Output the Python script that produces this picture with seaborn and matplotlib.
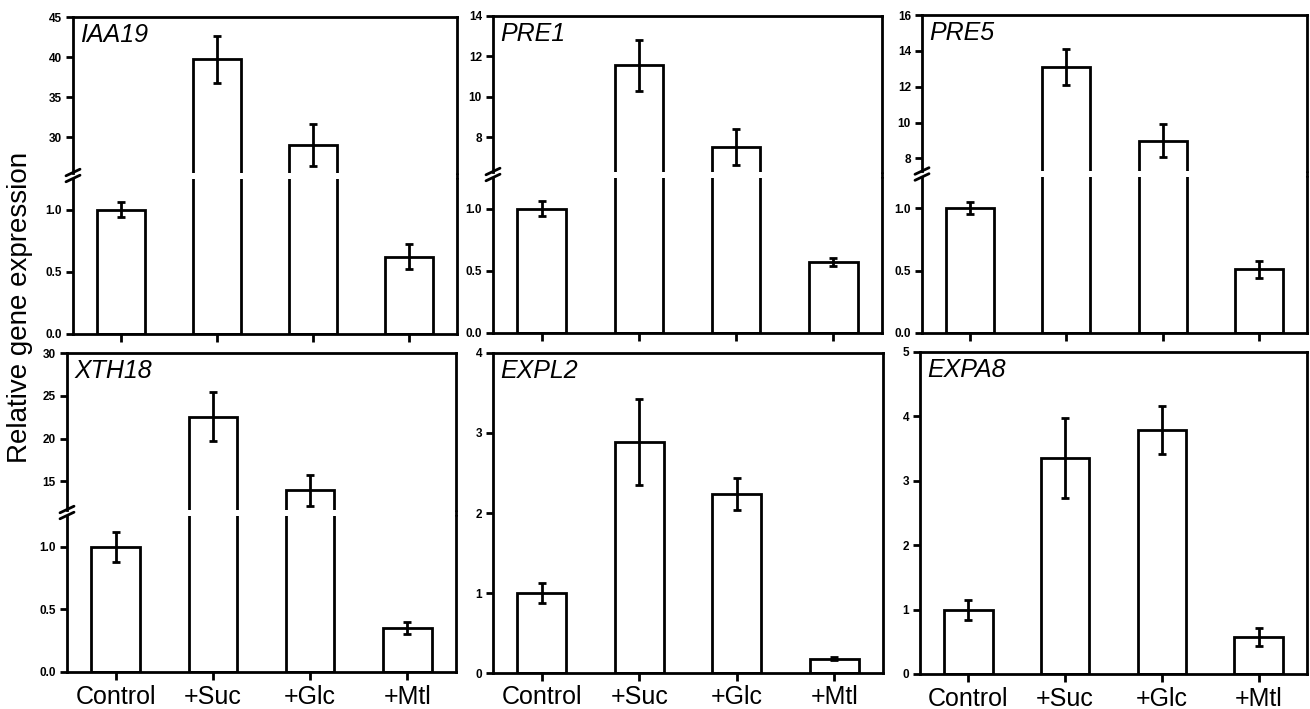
import numpy as np
import pandas as pd
import matplotlib
matplotlib.use("Agg")
import matplotlib.pyplot as plt
import seaborn as sns
from matplotlib.lines import Line2D
from matplotlib.ticker import FormatStrFormatter

# ---------------- data ----------------
categories = ["Control", "+Suc", "+Glc", "+Mtl"]

iaa19_mean = [1.0, 39.7, 29.0, 0.62]
iaa19_err = [0.06, 2.9, 2.6, 0.10]
pre1_mean = [1.0, 11.55, 7.5, 0.57]
pre1_err = [0.06, 1.28, 0.89, 0.035]
pre5_mean = [1.0, 13.1, 9.0, 0.51]
pre5_err = [0.05, 1.03, 0.94, 0.068]
xth18_mean = [1.0, 22.55, 13.95, 0.35]
xth18_err = [0.12, 2.87, 1.8, 0.05]
expl2_mean = [1.0, 2.89, 2.24, 0.18]
expl2_err = [0.12, 0.54, 0.20, 0.015]
expa8_mean = [1.0, 3.36, 3.79, 0.58]
expa8_err = [0.155, 0.62, 0.37, 0.14]

gene_names = ["IAA19", "PRE1", "PRE5", "XTH18", "EXPL2", "EXPA8"]
lower_ticks = [0.0, 0.5, 1.0]
iaa19_upper_ticks = [30, 35, 40, 45]
pre1_upper_ticks = [8, 10, 12, 14]
pre5_upper_ticks = [8, 10, 12, 14, 16]
xth18_upper_ticks = [15, 20, 25, 30]
expl2_ticks = [0, 1, 2, 3, 4]
expa8_ticks = [0, 1, 2, 3, 4, 5]
y_label = "Relative gene expression"

# ---------------- style ----------------
sns.set_theme(style="ticks")
plt.rcParams["font.family"] = ["Liberation Sans", "DejaVu Sans"]
plt.rcParams["axes.linewidth"] = 2.0
plt.rcParams["axes.edgecolor"] = "black"
plt.rcParams["text.color"] = "black"
plt.rcParams["xtick.color"] = "black"
plt.rcParams["ytick.color"] = "black"
plt.rcParams["axes.labelcolor"] = "black"

W, H = 1310, 709
fig = plt.figure(figsize=(W / 100, H / 100), dpi=100)

LW = 2.0
GAP = 6  # px gap of broken axis


def fig_rect(left, right, top, bottom):
    return [left / W, 1 - bottom / H, (right - left) / W, (bottom - top) / H]


def draw_bars(ax, means, errs):
    df = pd.DataFrame({"condition": categories, "value": means})
    sns.barplot(data=df, x="condition", y="value", ax=ax, color="white",
                edgecolor="black", linewidth=LW, width=0.5, saturation=1,
                errorbar=None)
    ax.errorbar(np.arange(len(categories)), means, yerr=errs, fmt="none",
                ecolor="black", elinewidth=LW, capsize=3.2, capthick=LW,
                zorder=5)
    ax.set_xlim(-0.5, len(categories) - 0.5)
    ax.set_xlabel("")
    ax.set_ylabel("")
    ax.tick_params(axis="y", direction="out", length=5, width=LW,
                   labelsize=8.5, pad=3, colors="black")
    for s in ax.spines.values():
        s.set_linewidth(LW)
        s.set_color("black")


def bold_ylabels(ax):
    for lab in ax.get_yticklabels():
        lab.set_fontweight("bold")
        lab.set_color("black")


def style_x(ax, show_labels):
    ax.tick_params(axis="x", direction="out", length=6, width=LW,
                   labelsize=18, pad=3, labelbottom=show_labels,
                   colors="black")


def gene_label(ax, name):
    ax.annotate(name, xy=(0, 1), xycoords="axes fraction",
                xytext=(7, -6), textcoords="offset pixels",
                ha="left", va="top", fontsize=18, style="italic",
                color="black")


def broken_panel(box, means, errs, upper_lim, upper_ticks, name, show_labels):
    left, right, top, bottom = box
    h = (bottom - top - GAP) / 2
    up_bottom = top + h
    low_top = up_bottom + GAP
    ax_up = fig.add_axes(fig_rect(left, right, top, up_bottom))
    ax_lo = fig.add_axes(fig_rect(left, right, low_top, bottom))
    draw_bars(ax_up, means, errs)
    draw_bars(ax_lo, means, errs)
    ax_up.set_ylim(*upper_lim)
    ax_up.set_yticks(upper_ticks)
    ax_up.yaxis.set_major_formatter(FormatStrFormatter("%d"))
    ax_lo.set_ylim(0, 1.25)
    ax_lo.set_yticks(lower_ticks)
    ax_lo.yaxis.set_major_formatter(FormatStrFormatter("%.1f"))
    bold_ylabels(ax_up)
    bold_ylabels(ax_lo)
    ax_up.spines["bottom"].set_visible(False)
    ax_lo.spines["top"].set_visible(False)
    ax_up.tick_params(axis="x", bottom=False, labelbottom=False)
    style_x(ax_lo, show_labels)
    gene_label(ax_up, name)
    # right spine bridge
    fig.add_artist(Line2D([right / W, right / W],
                          [1 - up_bottom / H, 1 - low_top / H],
                          transform=fig.transFigure, color="black", lw=LW,
                          solid_capstyle="butt"))
    # break marks on left spine
    for yc in (up_bottom, low_top):
        fig.add_artist(Line2D([(left - 7) / W, (left + 7) / W],
                              [1 - (yc + 3.3) / H, 1 - (yc - 3.3) / H],
                              transform=fig.transFigure, color="black",
                              lw=LW))
    return ax_up, ax_lo


def simple_panel(box, means, errs, ylim, ticks, name, show_labels):
    ax = fig.add_axes(fig_rect(*box))
    draw_bars(ax, means, errs)
    ax.set_ylim(*ylim)
    ax.set_yticks(ticks)
    ax.yaxis.set_major_formatter(FormatStrFormatter("%d"))
    bold_ylabels(ax)
    style_x(ax, show_labels)
    gene_label(ax, name)
    return ax


broken_panel((73, 457, 17, 334), iaa19_mean, iaa19_err, (25.6, 45),
             iaa19_upper_ticks, gene_names[0], False)
broken_panel((493, 882, 16, 333), pre1_mean, pre1_err, (6.3, 14),
             pre1_upper_ticks, gene_names[1], False)
broken_panel((922, 1307, 15, 333), pre5_mean, pre5_err, (7.3, 16),
             pre5_upper_ticks, gene_names[2], False)
broken_panel((67, 456, 353, 672), xth18_mean, xth18_err, (11.7, 30),
             xth18_upper_ticks, gene_names[3], True)
simple_panel((493, 883, 353, 673), expl2_mean, expl2_err, (0, 4),
             expl2_ticks, gene_names[4], True)
simple_panel((920, 1307, 352, 674), expa8_mean, expa8_err, (0, 5),
             expa8_ticks, gene_names[5], True)

fig.text(20 / W, 1 - 307 / H, y_label, rotation=90, ha="center",
         va="center", fontsize=20, color="black")

fig.savefig("out.png", dpi=100, facecolor="white")
